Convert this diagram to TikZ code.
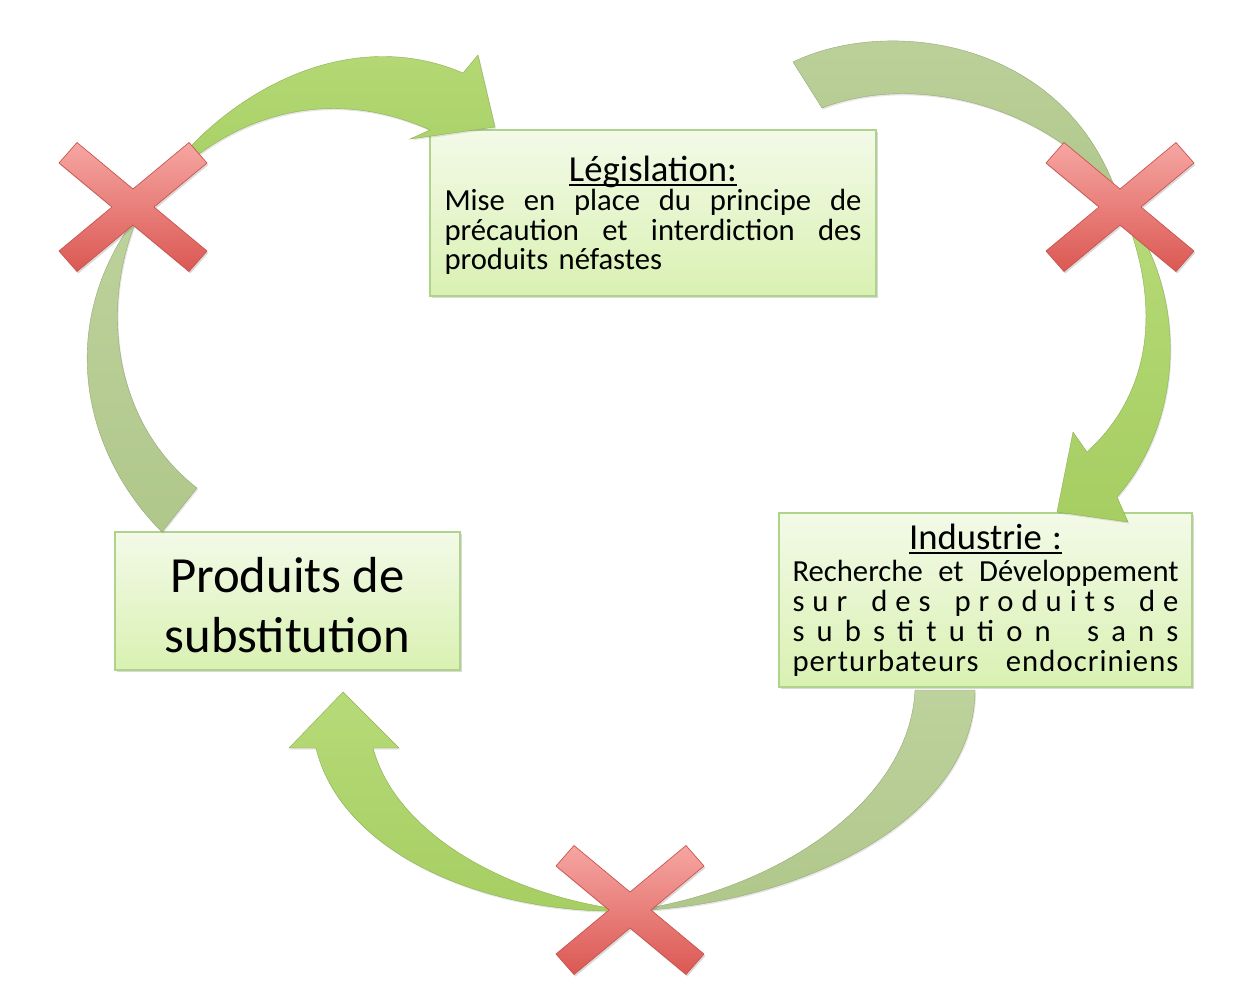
\documentclass[tikz,border=0pt]{standalone}
\usepackage{fontspec}
\setmainfont{Carlito}
\usetikzlibrary{shadows}
\definecolor{boxtop}{HTML}{F3FAE8}
\definecolor{boxbot}{HTML}{D9F1B2}
\definecolor{boxedge}{HTML}{AFD38A}
\definecolor{frontgr}{HTML}{A6CE62}
\definecolor{frontlt}{HTML}{B6DA78}
\definecolor{backgr}{HTML}{B0C78B}
\definecolor{backlt}{HTML}{BDD29C}
\definecolor{crosstop}{HTML}{F6A6A2}
\definecolor{crossbot}{HTML}{DB5853}
\definecolor{crossedge}{HTML}{C9514C}
\newcommand{\souligne}[1]{\setbox0=\hbox{#1}\rlap{\rule[-3.2pt]{\wd0}{1.1pt}}\box0}
\newcommand{\hf}{\hfill}

\begin{document}
\begin{tikzpicture}[
  x=0.75pt, y=-0.75pt,
  box/.style={rectangle, draw=boxedge, line width=0.8pt, top color=boxtop, bottom color=boxbot,
              drop shadow={opacity=0.3, shadow xshift=1.2pt, shadow yshift=-1.8pt},
              inner sep=0pt, align=left},
  front/.style={draw=frontgr!85!black, line width=0.3pt, top color=frontlt, bottom color=frontgr,
                drop shadow={opacity=0.2, shadow xshift=0.8pt, shadow yshift=-1.2pt}},
  back/.style={draw=backgr!85!black, line width=0.3pt, top color=backlt, bottom color=backgr,
               drop shadow={opacity=0.2, shadow xshift=0.8pt, shadow yshift=-1.2pt}},
  croixfill/.style={draw=crossedge, line width=0.5pt, top color=crosstop, bottom color=crossbot,
                    drop shadow={opacity=0.3, shadow xshift=1pt, shadow yshift=-1.5pt}},
  croix/.pic={\path[croixfill] (0,18) -- (56,64.5) -- (74,44) -- (21,0) -- (74,-44) -- (56,-64.5)
      -- (0,-18) -- (-56,-64.5) -- (-74,-44) -- (-21,0) -- (-74,44) -- (-56,64.5) -- cycle;},
]
\useasboundingbox (0,0) rectangle (1236,982);

% ---- the three boxes ----
\node[box, minimum width=334.5pt, minimum height=124.5pt, text width=312.75pt,
      font=\fontsize{23}{22.1}\selectfont] (legis) at (653,213) {%
  \makebox[312.75pt]{\fontsize{27.5}{22.1}\selectfont\rule{0pt}{22.5pt}\souligne{Législation:}}\\
  \makebox[312.75pt][l]{Mise\hf en\hf place\hf du\hf principe\hf de}\\
  \makebox[312.75pt][l]{précaution\hf et\hf interdiction\hf des}\\
  produits néfastes};

\node[box, minimum width=309.75pt, minimum height=130.5pt, text width=289.5pt,
      font=\fontsize{23}{22.5}\selectfont] (indus) at (985.5,600) {%
  \makebox[289.5pt]{\fontsize{27.5}{22.5}\selectfont\souligne{Industrie :}}\\[1.5pt]
  \makebox[289.5pt][l]{Recherche\hf et\hf Développement}\\
  \makebox[289.5pt][l]{s\hf u\hf r\hf\hf\hf d\hf e\hf s\hf\hf\hf p\hf r\hf o\hf d\hf u\hf i\hf t\hf s\hf\hf\hf d\hf e}\\
  \makebox[289.5pt][l]{s\hf u\hf b\hf s\hf ti\hf t\hf u\hf ti\hf o\hf n\hf\hf\hf s\hf a\hf n\hf s}\\
  \makebox[289.5pt][l]{\addfontfeature{LetterSpace=3.5}perturbateurs\hf endocriniens}};

\node[box, minimum width=258.75pt, minimum height=103.5pt, align=center,
      font=\fontsize{38}{45}\selectfont] (prod) at (287.5,601) {\rule{0pt}{33pt}Produits de\\substitution};

% ---- left arrow: produits -> legislation ----
\path[back] (140,212) .. controls (55,320) and (80,450) .. (162,532) -- (197,488)
  .. controls (110,420) and (100,300) .. (140,212) -- cycle;
\path[front] (140,212) .. controls (210,95) and (345,22) .. (463,73) -- (478,55) -- (495,127)
  -- (410,139) -- (430,130) .. controls (330,85) and (220,110) .. (140,212) -- cycle;

% ---- right arrow: legislation -> industrie ----
\path[back] (793,62) .. controls (890,15) and (1070,40) .. (1120,203)
  .. controls (1060,110) and (920,70) .. (822,108) -- cycle;
\path[front] (1120,203) .. controls (1190,290) and (1185,420) .. (1117,497) -- (1128,522)
  -- (1057,512) -- (1073,432) -- (1087,452) .. controls (1160,385) and (1158,290) .. (1120,203) -- cycle;

% ---- bottom arrow: industrie -> produits ----
\path[back] (915,690) -- (975,690) .. controls (975,820) and (800,905) .. (630,911)
  .. controls (780,890) and (910,800) .. (915,690) -- cycle;
\path[front] (630,911) .. controls (480,915) and (340,850) .. (316,748) -- (289,748) -- (343,692)
  -- (399,748) -- (373,748) .. controls (395,830) and (500,895) .. (630,911) -- cycle;

% ---- crosses ----
\coordinate (croixG) at (133,207);
\coordinate (croixD) at (1120,207);
\coordinate (croixB) at (630,910);
\pic at (croixG) {croix};
\pic at (croixD) {croix};
\pic at (croixB) {croix};
\end{tikzpicture}
\end{document}
